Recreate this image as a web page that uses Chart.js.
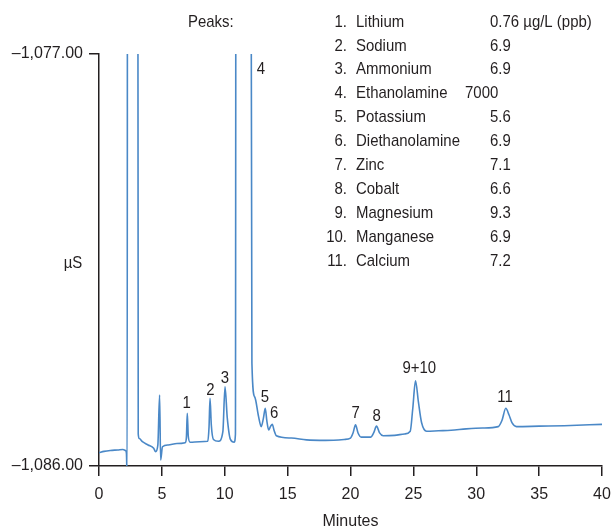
<!DOCTYPE html>
<html>
<head>
<meta charset="utf-8">
<script src="https://cdn.jsdelivr.net/npm/chart.js@4.4.1/dist/chart.umd.min.js"></script>
<style>
  html, body { margin: 0; padding: 0; background: #fff; }
  #wrap { width: 615px; height: 532px; }
</style>
</head>
<body>
<div id="wrap"><canvas id="chromChart" width="615" height="532"></canvas></div>
<script>
// retention time (min) and conductivity (µS)
const times = [
    0.0, 0.4, 0.9, 1.5, 1.9, 2.1, 2.18, 2.24, 2.27, 3.08, 3.12, 3.2, 3.45, 3.9, 4.35, 4.5, 4.68, 4.82, 4.9, 5.05,
    5.5, 6.2, 6.85, 6.95, 7.02, 7.1, 7.25, 8.0, 8.65, 8.75, 8.83, 8.93, 9.1, 9.5, 9.85, 10.02, 10.2, 10.45, 10.75, 10.85,
    10.9, 12.06, 12.16, 12.38, 12.69, 12.9, 13.08, 13.22, 13.35, 13.49, 13.65, 13.78, 13.92, 14.1, 15.3, 16.5, 18.0, 19.5, 20.0, 20.2,
    20.4, 20.6, 20.85, 21.6, 21.85, 22.07, 22.3, 22.6, 23.5, 24.3, 24.75, 24.95, 25.17, 25.4, 25.65, 26.05, 27.0, 28.0, 29.2, 30.5,
    31.75, 32.05, 32.35, 32.6, 32.85, 33.2, 35.0, 37.0, 40.0
];
const signal = [
    -1085.71, -1085.68, -1085.66, -1085.65, -1085.64, -1085.66, -1085.72, -1086.3, -1070, -1070, -1085.30, -1085.40, -1085.47, -1085.54, -1085.61, -1085.69, -1085.54, -1084.45, -1085.87, -1085.58,
    -1085.54, -1085.51, -1085.49, -1085.38, -1084.85, -1085.35, -1085.48, -1085.47, -1085.46, -1085.15, -1084.52, -1085.10, -1085.42, -1085.46, -1085.25, -1084.27, -1084.95, -1085.42, -1085.48, -1085.30,
    -1070, -1070, -1083.75, -1084.49, -1084.92, -1085.14, -1084.95, -1084.74, -1085.02, -1085.21, -1085.13, -1085.09, -1085.22, -1085.34, -1085.39, -1085.43, -1085.44, -1085.42, -1085.39, -1085.28,
    -1085.10, -1085.28, -1085.37, -1085.37, -1085.27, -1085.13, -1085.27, -1085.34, -1085.33, -1085.30, -1085.24, -1084.75, -1084.14, -1084.60, -1085.05, -1085.24, -1085.23, -1085.22, -1085.19, -1085.17,
    -1085.14, -1085.00, -1084.74, -1084.88, -1085.06, -1085.14, -1085.13, -1085.12, -1085.09
];

const xTicks = [0, 5, 10, 15, 20, 25, 30, 35, 40];
const yTicks = [-1086, -1077];

// peak numbers placed above their peaks (data coords)
const peakLabels = ['1', '2', '3', '4', '5', '6', '7', '8', '9+10', '11'];
const peakLabelTimes = [6.97, 8.85, 10.02, 12.88, 13.2, 13.92, 20.41, 22.08, 25.47, 32.29];
const peakLabelValues = [-1084.62, -1084.34, -1084.08, -1077.33, -1084.49, -1084.85, -1084.85, -1084.92, -1083.87, -1084.49];

const legendNums = ['1.', '2.', '3.', '4.', '5.', '6.', '7.', '8.', '9.', '10.', '11.'];
const legendNames = ['Lithium', 'Sodium', 'Ammonium', 'Ethanolamine', 'Potassium', 'Diethanolamine', 'Zinc', 'Cobalt', 'Magnesium', 'Manganese', 'Calcium'];
const legendValues = ['0.76 µg/L (ppb)', '6.9', '6.9', '7000', '5.6', '6.9', '7.1', '6.6', '9.3', '6.9', '7.2'];

const FONT = "'Liberation Sans', Arial, sans-serif";
const INK = '#231f20';
const TRACE = '#4a88c7';

// narrow text: squeeze horizontally to get the condensed look of the original
function drawNarrow(ctx, txt, x, y, align) {
    ctx.save();
    ctx.translate(x, y);
    ctx.scale(0.88, 1);
    ctx.textAlign = align;
    ctx.fillText(txt, 0, 0);
    ctx.restore();
}

const annotate = {
    id: 'annotate',
    afterDraw(chart) {
        const ctx = chart.ctx;
        const xs = chart.scales.x, ys = chart.scales.y;
        ctx.save();
        ctx.fillStyle = INK;
        ctx.textBaseline = 'middle';
        ctx.font = '17px ' + FONT;

        peakLabels.forEach((txt, i) => {
            drawNarrow(ctx, txt, xs.getPixelForValue(peakLabelTimes[i]), ys.getPixelForValue(peakLabelValues[i]), 'center');
        });

        // y axis unit, horizontal
        drawNarrow(ctx, 'µS', 73, 263, 'center');

        // peak table
        drawNarrow(ctx, 'Peaks:', 188, 22, 'left');
        legendNames.forEach((name, i) => {
            const y = 22 + i * 23.9;
            drawNarrow(ctx, legendNums[i], 347, y, 'right');
            drawNarrow(ctx, name, 356, y, 'left');
            drawNarrow(ctx, legendValues[i], legendValues[i] === '7000' ? 465 : 490, y, 'left');
        });
        ctx.restore();
    }
};

new Chart(document.getElementById('chromChart'), {
    type: 'line',
    data: {
        datasets: [{
            data: times.map((t, i) => ({ x: t, y: signal[i] })),
            borderColor: TRACE,
            borderWidth: 1.6,
            pointRadius: 0,
            cubicInterpolationMode: 'monotone',
            clip: 0
        }]
    },
    options: {
        responsive: false,
        devicePixelRatio: 1,
        animation: false,
        layout: { padding: { top: 54, right: 13, left: 0, bottom: 0 } },
        plugins: { legend: { display: false }, tooltip: { enabled: false } },
        scales: {
            x: {
                type: 'linear',
                min: 0,
                max: 40,
                afterBuildTicks: s => { s.ticks = xTicks.map(v => ({ value: v })); },
                afterFit: s => { s.height = 66; s.paddingLeft = 0; s.paddingRight = 0; },
                ticks: { color: INK, font: { family: FONT, size: 16 }, padding: 9, maxRotation: 0 },
                grid: { drawOnChartArea: false, tickLength: 10, color: INK, lineWidth: 1.5 },
                border: { color: INK, width: 1.5 },
                title: { display: true, text: 'Minutes', color: INK, font: { family: FONT, size: 16 }, padding: { top: 0, bottom: 1 } }
            },
            y: {
                min: -1086,
                max: -1077,
                afterBuildTicks: s => { s.ticks = yTicks.map(v => ({ value: v })); },
                afterFit: s => { s.width = 99; },
                ticks: {
                    color: INK,
                    font: { family: FONT, size: 16 },
                    padding: 6,
                    callback: v => '\u2013' + Math.abs(v).toLocaleString('en-US', { minimumFractionDigits: 2, maximumFractionDigits: 2 })
                },
                grid: { drawOnChartArea: false, tickLength: 10, color: INK, lineWidth: 1.5 },
                border: { color: INK, width: 1.5 }
            }
        }
    },
    plugins: [annotate]
});
</script>
</body>
</html>
